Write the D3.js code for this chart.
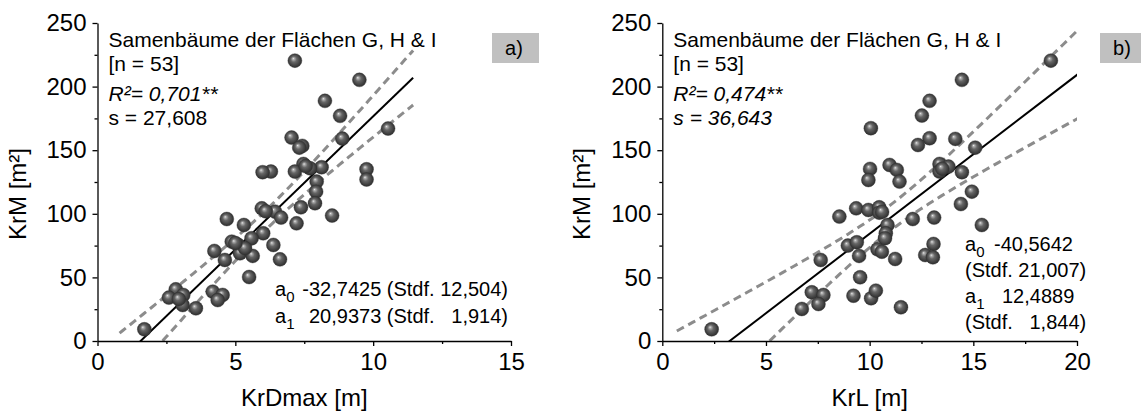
<!DOCTYPE html>
<html>
<head>
<meta charset="utf-8">
<script src="https://cdn.jsdelivr.net/npm/d3@7"></script>
<style>
  html, body { margin: 0; padding: 0; background: #fff; }
  svg text { font-family: "Liberation Sans", Arial, sans-serif; fill: #000; }
</style>
</head>
<body>
<svg id="chart" width="1141" height="412"></svg>
<script>
// Crown area (KrM) of seed trees against max. crown diameter (a) and crown length (b)
const krDmax = [7.16,9.50,8.25,8.80,10.54,7.04,8.88,7.43,7.32,7.47,8.13,7.71,9.76,6.29,5.99,7.16,9.76,7.95,7.93,7.89,
  7.38,8.51,7.22,5.96,6.44,6.66,4.69,5.31,6.01,5.59,6.38,4.87,5.11,5.17,4.24,4.62,5.63,6.62,5.50,2.84,
  2.59,3.11,3.09,3.57,4.18,4.54,4.36,1.70,7.55,5.35,2.95,6.10,5.00];
const krMa = [220.4,205.3,188.8,177.0,167.0,159.9,159.1,153.4,152.0,139.2,136.6,135.8,135.0,133.2,132.7,133.2,127.0,125.3,117.4,108.3,
  105.1,98.6,92.5,104.3,101.7,97.0,95.9,91.2,84.7,80.8,75.5,78.1,75.5,69.0,70.8,63.7,66.9,64.2,50.3,40.6,
  34.1,36.2,28.3,25.7,38.8,36.2,32.2,9.2,137.5,73.0,33.0,102.0,77.0];

const krL = [18.74,14.45,12.89,12.52,10.06,12.89,12.33,14.13,15.09,10.02,9.94,10.96,11.31,11.44,13.37,13.37,13.80,14.45,14.93,14.40,
  8.54,9.35,9.94,10.46,10.46,12.08,13.11,15.41,10.86,10.78,10.74,8.95,9.38,9.49,10.38,10.59,11.23,13.08,12.68,13.05,
  7.64,9.54,7.21,7.77,7.53,6.73,9.22,10.07,10.30,11.51,2.38,10.6,13.5];
const krMb = [220.4,205.3,188.8,177.2,167.3,159.4,154.1,158.9,152.0,135.3,126.6,138.4,134.5,125.3,139.2,133.2,137.1,132.7,117.4,107.7,
  97.8,104.3,103.0,105.1,100.9,95.9,97.0,91.2,91.2,84.7,80.8,75.0,77.6,66.9,72.1,70.2,64.5,76.3,67.6,65.8,
  63.7,50.1,38.3,36.2,29.1,25.2,35.6,33.6,39.6,26.5,9.2,101.5,135.5];

// Linear fit statistics: [a0, a1], standard errors, residual s
const coefA = [-32.7425, 20.9373];
const stdfA = [12.504, 1.914];
const sA = 27.608;
const coefB = [-40.5642, 12.4889];
const stdfB = [21.007, 1.844];
const sB = 36.643;
const nTrees = 53;
const tCrit = 2.0076;          // t(0.975, df = 51)
const fitRangeA = [0.8, 11.45];
const fitRangeB = [0.7, 20.3];

const yTicks = [0, 50, 100, 150, 200, 250];
const yMinor = [25, 75, 125, 175, 225];
const xTicksA = [0, 5, 10, 15];
const xMinorA = [2.5, 7.5, 12.5];
const xTicksB = [0, 5, 10, 15, 20];
const xMinorB = [2.5, 7.5, 12.5, 17.5];

const svg = d3.select("#chart");
const defs = svg.append("defs");

// shaded ball symbol
const grad = defs.append("radialGradient").attr("id", "ball")
  .attr("cx", "50%").attr("cy", "50%").attr("r", "55%")
  .attr("fx", "38%").attr("fy", "34%");
[[0, "#eeeeee"], [0.12, "#b0b0b0"], [0.38, "#666666"], [0.78, "#3c3c3c"], [1, "#282828"]]
  .forEach(([o, c]) => grad.append("stop").attr("offset", o).attr("stop-color", c));

const panels = [
  { id: "a", x0: 97.5, x1: 511, xMax: 15, xs: krDmax, ys: krMa, coef: coefA, stdf: stdfA, s: sA,
    range: fitRangeA, ticks: xTicksA, minor: xMinorA, xTitle: "KrDmax [m]", tag: "a)", tagX: 492,
    r2: "0,701", sTxt: "27,608", sItalic: false },
  { id: "b", x0: 662.3, x1: 1077, xMax: 20, xs: krL, ys: krMb, coef: coefB, stdf: stdfB, s: sB,
    range: fitRangeB, ticks: xTicksB, minor: xMinorB, xTitle: "KrL [m]", tag: "b)", tagX: 1100,
    r2: "0,474", sTxt: "36,643", sItalic: true }
];

const yTop = 23, yBot = 341;

panels.forEach(p => {
  const x = d3.scaleLinear().domain([0, p.xMax]).range([p.x0, p.x1]);
  const y = d3.scaleLinear().domain([0, 250]).range([yBot, yTop]);
  const g = svg.append("g");

  defs.append("clipPath").attr("id", "clip-" + p.id)
    .append("rect").attr("x", p.x0).attr("y", yTop)
    .attr("width", p.x1 - p.x0).attr("height", yBot - yTop);

  // tag box
  g.append("rect").attr("x", p.tagX).attr("y", 33)
    .attr("width", 47).attr("height", 30).attr("fill", "#c0c0c0");
  g.append("text").attr("x", p.tagX + 22).attr("y", 55)
    .attr("text-anchor", "middle").style("font-size", "20px").text(p.tag);

  // confidence band of the fitted mean
  const Sxx = Math.pow(p.s / p.stdf[1], 2);
  const xbar = Math.sqrt(Math.max(0, (Math.pow(p.stdf[0] / p.s, 2) - 1 / nTrees) * Sxx));
  const fit = v => p.coef[0] + p.coef[1] * v;
  const half = v => tCrit * p.s * Math.sqrt(1 / nTrees + (v - xbar) * (v - xbar) / Sxx);
  const xsFit = d3.range(0, 101).map(i => p.range[0] + (p.range[1] - p.range[0]) * i / 100);

  const clipG = g.append("g").attr("clip-path", `url(#clip-${p.id})`);
  const line = d3.line().x(d => x(d[0])).y(d => y(d[1]));

  [1, -1].forEach(sign => {
    clipG.append("path")
      .attr("d", line(xsFit.map(v => [v, fit(v) + sign * half(v)])))
      .attr("fill", "none").attr("stroke", "#8c8c8c")
      .attr("stroke-width", 3).attr("stroke-dasharray", "8,5");
  });
  clipG.append("path")
    .attr("d", line(p.range.map(v => [v, fit(v)])))
    .attr("fill", "none").attr("stroke", "#000").attr("stroke-width", 2);

  // scatter
  g.append("g").selectAll("circle")
    .data(p.xs.map((v, i) => [v, p.ys[i]]))
    .join("circle")
    .attr("cx", d => x(d[0])).attr("cy", d => y(d[1]))
    .attr("r", 7).attr("fill", "url(#ball)")
    .attr("stroke", "#333").attr("stroke-width", 0.4);

  // axes
  const yAx = g.append("g").attr("transform", `translate(${p.x0},0)`)
    .call(d3.axisLeft(y).tickValues(yTicks).tickSize(5).tickSizeOuter(0).tickPadding(6));
  g.append("g").attr("transform", `translate(${p.x0},0)`)
    .call(d3.axisLeft(y).tickValues(yMinor).tickSize(3).tickSizeOuter(0).tickFormat(""))
    .select(".domain").remove();
  const xAx = g.append("g").attr("transform", `translate(0,${yBot})`)
    .call(d3.axisBottom(x).tickValues(p.ticks).tickSize(5).tickSizeOuter(0).tickPadding(7));
  g.append("g").attr("transform", `translate(0,${yBot})`)
    .call(d3.axisBottom(x).tickValues(p.minor).tickSize(3).tickSizeOuter(0).tickFormat(""))
    .select(".domain").remove();

  [yAx, xAx].forEach(a => {
    a.selectAll("text").style("font-size", "24px").style("font-family", '"Liberation Sans", Arial, sans-serif');
    a.selectAll("line, path").attr("stroke", "#000").attr("stroke-width", 1.3);
  });
  g.selectAll(".tick line").attr("stroke", "#000").attr("stroke-width", 1.3);

  // axis titles
  g.append("text").attr("x", (p.x0 + p.x1) / 2).attr("y", 406)
    .attr("text-anchor", "middle").style("font-size", "24px").text(p.xTitle);
  g.append("text")
    .attr("transform", `translate(${p.x0 - 72},194) rotate(-90)`)
    .attr("text-anchor", "middle").style("font-size", "24px").text("KrM [m²]");

  // header annotations
  const tx = p.x0 + 11;
  g.append("text").attr("x", tx).attr("y", 47).style("font-size", "21px")
    .text("Samenbäume der Flächen G, H & I");
  g.append("text").attr("x", tx).attr("y", 71).style("font-size", "21px").text("[n = 53]");
  g.append("text").attr("x", tx).attr("y", 101).style("font-size", "21px")
    .style("font-style", "italic").text(`R²= ${p.r2}**`);
  g.append("text").attr("x", tx).attr("y", 125).style("font-size", "21px")
    .style("font-style", p.sItalic ? "italic" : "normal").text(`s = ${p.sTxt}`);
});

// coefficient annotations
function coefLabel(xa, yb, idx) {
  const t = svg.append("text").attr("x", xa).attr("y", yb).style("font-size", "20px");
  t.append("tspan").text("a");
  t.append("tspan").attr("dy", 6).style("font-size", "15px").text(idx);
}
const fmt = v => v.toFixed(4).replace(".", ",");
const fmt3 = v => v.toFixed(3).replace(".", ",");

// panel a
coefLabel(275, 296, "0");
svg.append("text").attr("x", 508).attr("y", 296).attr("text-anchor", "end")
  .attr("xml:space", "preserve").style("white-space", "pre").style("font-size", "20px")
  .text(`${fmt(coefA[0])} (Stdf. ${fmt3(stdfA[0])})`);
coefLabel(275, 323, "1");
svg.append("text").attr("x", 508).attr("y", 323).attr("text-anchor", "end")
  .attr("xml:space", "preserve").style("white-space", "pre").style("font-size", "20px")
  .text(`${fmt(coefA[1])} (Stdf.   ${fmt3(stdfA[1])})`);

// panel b
coefLabel(965, 251, "0");
svg.append("text").attr("x", 994).attr("y", 251).style("font-size", "20px").text(fmt(coefB[0]));
svg.append("text").attr("x", 965).attr("y", 277).style("font-size", "20px")
  .text(`(Stdf. ${fmt3(stdfB[0])})`);
coefLabel(965, 303, "1");
svg.append("text").attr("x", 1002).attr("y", 303).style("font-size", "20px").text(fmt(coefB[1]));
svg.append("text").attr("x", 965).attr("y", 329).attr("xml:space", "preserve")
  .style("white-space", "pre").style("font-size", "20px")
  .text(`(Stdf.   ${fmt3(stdfB[1])})`);
</script>
</body>
</html>
